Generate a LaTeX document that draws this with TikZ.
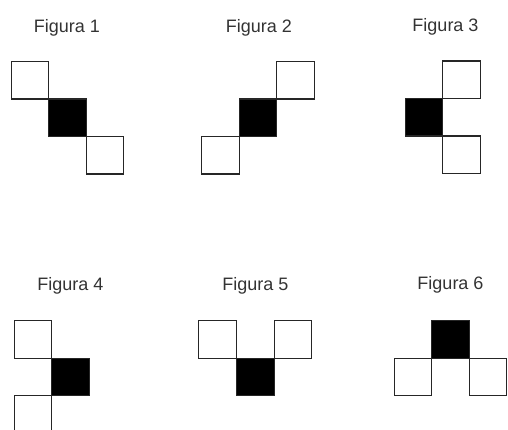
\documentclass[tikz,border=0pt]{standalone}
\usepackage{fontspec}
\setmainfont{Liberation Sans}
\begin{document}
\begin{tikzpicture}[x=1pt,y=-1pt,
  sq/.style={draw=black!85,line width=1.3pt,minimum size=37.5pt,inner sep=0pt,anchor=north west},
  wsq/.style={sq,fill=white},
  bsq/.style={sq,fill=black},
  lbl/.style={anchor=base,font=\fontsize{18}{21}\selectfont,text=black!80,inner sep=0pt}]
\useasboundingbox (0,0) rectangle (508,430);
% Figura 1
\node[lbl] (t1) at (67,32.5) {Figura 1};
\node[wsq] (a1) at (10.5,61) {};
\node[bsq] (a2) at (48,98.5) {};
\node[wsq] (a3) at (85.5,136) {};
% Figura 2
\node[lbl] (t2) at (259,32.5) {Figura 2};
\node[wsq] (b1) at (276,61) {};
\node[bsq] (b2) at (238.5,98.5) {};
\node[wsq] (b3) at (201,136) {};
% Figura 3
\node[lbl] (t3) at (445.5,32) {Figura 3};
\node[wsq] (c1) at (442,60.5) {};
\node[bsq] (c2) at (404.5,98) {};
\node[wsq] (c3) at (442,135.5) {};
% Figura 4
\node[lbl] (t4) at (70.5,290.5) {Figura 4};
\node[wsq] (d1) at (13.5,320) {};
\node[bsq] (d2) at (51,357.5) {};
\node[wsq] (d3) at (13.5,395) {};
% Figura 5
\node[lbl] (t5) at (255.5,290.5) {Figura 5};
\node[wsq] (e1) at (198,320) {};
\node[bsq] (e2) at (236,357.5) {};
\node[wsq] (e3) at (273.5,320) {};
% Figura 6
\node[lbl] (t6) at (450.5,289.5) {Figura 6};
\node[bsq] (f1) at (431,320) {};
\node[wsq] (f2) at (393.5,357.5) {};
\node[wsq] (f3) at (468.5,357.5) {};
\end{tikzpicture}
\end{document}
